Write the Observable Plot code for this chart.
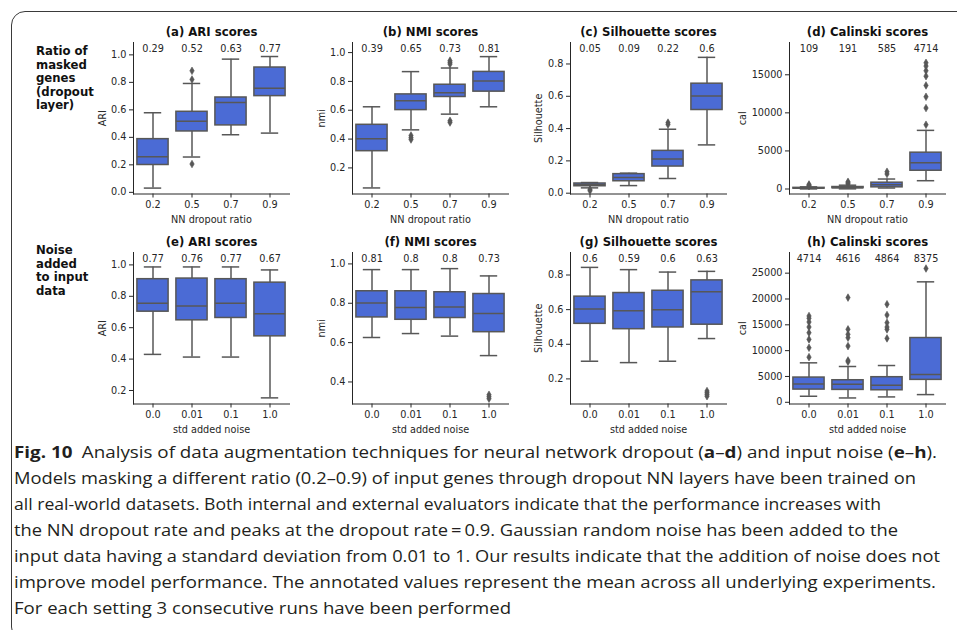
<!DOCTYPE html>
<html>
<head>
<meta charset="utf-8">
<script src="https://cdn.jsdelivr.net/npm/d3@7"></script>
<script src="https://cdn.jsdelivr.net/npm/@observablehq/plot@0.6"></script>
<style>
  html, body { margin: 0; padding: 0; background: #fff; }
  #fig { position: relative; width: 957px; height: 630px; overflow: hidden; background: #fff; }
  .frame { position: absolute; left: 11px; top: 11px; width: 1000px; height: 630px; box-sizing: border-box;
           border: 1.3px solid #3a3a3a; border-radius: 14px; }
  .rowlab { position: absolute; left: 36px; font-family: "DejaVu Sans", sans-serif; font-weight: bold;
            font-size: 11.7px; line-height: 13.6px; color: #111; }
  .panel { position: absolute; }
  .cap { position: absolute; left: 14px; white-space: nowrap; font-family: "Open Sans", sans-serif;
         font-size: 16.2px; line-height: 26px; color: #231f20; transform-origin: 0 50%; }
</style>
</head>
<body>
<div id="fig">
  <div class="frame"></div>
  <div class="rowlab" style="top:45px">Ratio of<br>masked<br>genes<br>(dropout<br>layer)</div>
  <div class="rowlab" style="top:244px">Noise<br>added<br>to input<br>data</div>
</div>
<script>
// ---------- data ----------
const dropoutCats = ["0.2", "0.5", "0.7", "0.9"];
const noiseCats = ["0.0", "0.01", "0.1", "1.0"];

// stats per category: [lower whisker, q1, median, q3, upper whisker]
const ariDropoutStats = [[0.031, 0.199, 0.259, 0.387, 0.579], [0.257, 0.443, 0.518, 0.586, 0.792], [0.419, 0.487, 0.654, 0.690, 0.969], [0.431, 0.700, 0.758, 0.908, 0.988]];
const ariDropoutOutliers = [[], [0.884, 0.821, 0.206], [], []];
const ariDropoutMeans = ["0.29", "0.52", "0.63", "0.77"];

const nmiDropoutStats = [[0.061, 0.316, 0.402, 0.499, 0.624], [0.464, 0.601, 0.666, 0.710, 0.868], [0.573, 0.692, 0.722, 0.777, 0.893], [0.624, 0.729, 0.803, 0.866, 0.972]];
const nmiDropoutOutliers = [[], [0.425, 0.41, 0.397], [0.944, 0.932, 0.92, 0.527, 0.515], []];
const nmiDropoutMeans = ["0.39", "0.65", "0.73", "0.81"];

const silDropoutStats = [[0.033, 0.043, 0.052, 0.060, 0.066], [0.047, 0.074, 0.097, 0.118, 0.124], [0.091, 0.165, 0.212, 0.262, 0.396], [0.299, 0.515, 0.602, 0.678, 0.841]];
const silDropoutOutliers = [[0.023, 0.015], [], [0.437, 0.425], []];
const silDropoutMeans = ["0.05", "0.09", "0.22", "0.6"];

const calDropoutStats = [[10, 50, 100, 150, 280], [20, 110, 170, 260, 500], [130, 220, 570, 830, 1310], [1090, 2400, 3450, 4770, 7700]];
const calDropoutOutliers = [[380, 480, 600], [650, 800, 950], [1970, 2270], [8440, 10630, 12110, 13600, 14820, 15530, 16140, 16570]];
const calDropoutMeans = ["109", "191", "585", "4714"];

const ariNoiseStats = [[0.43, 0.702, 0.755, 0.909, 0.987], [0.413, 0.647, 0.738, 0.913, 0.987], [0.413, 0.662, 0.755, 0.909, 0.987], [0.153, 0.545, 0.689, 0.887, 0.968]];
const ariNoiseOutliers = [[], [], [], []];
const ariNoiseMeans = ["0.77", "0.76", "0.77", "0.67"];

const nmiNoiseStats = [[0.626, 0.728, 0.801, 0.861, 0.971], [0.646, 0.716, 0.779, 0.861, 0.971], [0.633, 0.725, 0.781, 0.856, 0.976], [0.534, 0.653, 0.748, 0.847, 0.939]];
const nmiNoiseOutliers = [[], [], [], [0.335, 0.325, 0.315]];
const nmiNoiseMeans = ["0.81", "0.8", "0.8", "0.73"];

const silNoiseStats = [[0.302, 0.518, 0.603, 0.675, 0.844], [0.294, 0.487, 0.594, 0.696, 0.831], [0.302, 0.497, 0.599, 0.709, 0.817], [0.433, 0.513, 0.704, 0.769, 0.821]];
const silNoiseOutliers = [[], [], [], [0.13, 0.12, 0.11, 0.1]];
const silNoiseMeans = ["0.6", "0.59", "0.6", "0.63"];

const calNoiseStats = [[1170, 2460, 3560, 4790, 7640], [840, 2400, 3500, 4270, 6930], [1040, 2330, 3300, 4860, 7120], [1490, 4340, 5380, 12440, 23320]];
const calNoiseOutliers = [[8740, 10560, 12180, 13470, 14570, 15540, 16260, 16710], [7840, 8100, 10880, 12500, 13150, 14120, 20270], [12370, 14120, 14570, 15410, 16900, 18980], [25900]];
const calNoiseMeans = ["4714", "4616", "4864", "8375"];

const ticks01 = [0, 0.2, 0.4, 0.6, 0.8, 1.0];
const ticks02 = [0.2, 0.4, 0.6, 0.8, 1.0];
const ticks04 = [0.4, 0.6, 0.8, 1.0];
const ticksSil = [0, 0.2, 0.4, 0.6, 0.8];
const ticksSil2 = [0.2, 0.4, 0.6, 0.8];
const ticksCalA = [0, 5000, 10000, 15000];
const ticksCalB = [0, 5000, 10000, 15000, 20000, 25000];

const captionLines = [
  ["<b>Fig. 10</b>\u2002Analysis of data augmentation techniques for neural network dropout (<b>a</b>–<b>d</b>) and input noise (<b>e</b>–<b>h</b>).", 937],
  ["Models masking a different ratio (0.2–0.9) of input genes through dropout NN layers have been trained on", 916],
  ["all real-world datasets. Both internal and external evaluators indicate that the performance increases with", 881],
  ["the NN dropout rate and peaks at the dropout rate\u2009=\u20090.9. Gaussian random noise has been added to the", 898],
  ["input data having a standard deviation from 0.01 to 1. Our results indicate that the addition of noise does not", 940],
  ["improve model performance. The annotated values represent the mean across all underlying experiments.", 936],
  ["For each setting 3 consecutive runs have been performed", 511]
];

// ---------- drawing ----------
const BLUE = "#4b6bd5";
const GRAY = "#575757";
const fig = document.getElementById("fig");
const fmt1 = d3.format(".1f");
const fmtInt = d3.format("d");

const ML = 60, MT = 30, MB = 40, MR = 8, PW = 156, PH = 151.5;

function panel(cfg) {
  const rows = cfg.cats.map((c, i) => ({cat: c, lo: cfg.stats[i][0], q1: cfg.stats[i][1], med: cfg.stats[i][2], q3: cfg.stats[i][3], hi: cfg.stats[i][4]}));
  const outs = cfg.outliers.flatMap((arr, i) => arr.map(v => ({cat: cfg.cats[i], v})));
  const means = cfg.cats.map((c, i) => ({cat: c, m: cfg.means[i]}));
  const bw = PW / cfg.cats.length;
  const boxInset = bw * 0.1;
  const capInset = bw * 0.277;
  const svg = Plot.plot({
    width: ML + PW + MR,
    height: MT + PH + MB,
    marginTop: MT, marginBottom: MB, marginLeft: ML, marginRight: MR,
    style: {fontFamily: "DejaVu Sans, sans-serif", fontSize: "9.7px", color: "#262626", background: "transparent", overflow: "visible"},
    x: {type: "band", domain: cfg.cats, padding: 0, tickSize: 4, tickPadding: 3, line: true, label: null},
    y: {domain: cfg.domain, ticks: cfg.ticks, tickFormat: cfg.fmt, tickSize: 4, tickPadding: 3, line: true, label: null},
    marks: [
      Plot.ruleX(rows, {x: "cat", y1: "lo", y2: "q1", stroke: GRAY, strokeWidth: 1.5}),
      Plot.ruleX(rows, {x: "cat", y1: "q3", y2: "hi", stroke: GRAY, strokeWidth: 1.5}),
      Plot.barY(rows, {x: "cat", y1: "q1", y2: "q3", fill: BLUE, stroke: GRAY, strokeWidth: 1.5, insetLeft: boxInset, insetRight: boxInset}),
      Plot.tickY(rows, {x: "cat", y: "med", stroke: GRAY, strokeWidth: 1.5, insetLeft: boxInset, insetRight: boxInset}),
      Plot.tickY(rows, {x: "cat", y: "lo", stroke: GRAY, strokeWidth: 1.5, insetLeft: capInset, insetRight: capInset}),
      Plot.tickY(rows, {x: "cat", y: "hi", stroke: GRAY, strokeWidth: 1.5, insetLeft: capInset, insetRight: capInset}),
      Plot.dot(outs, {x: "cat", y: "v", symbol: "diamond", r: 2.3, fill: GRAY, stroke: GRAY, strokeWidth: 0.6}),
      Plot.text(means, {x: "cat", text: "m", frameAnchor: "top", lineAnchor: "middle", dy: 6.3, fill: "#262626"}),
      Plot.text([cfg.title], {text: d => d, frameAnchor: "top", lineAnchor: "middle", textAnchor: "middle", dy: -10, fontWeight: "bold", fontSize: 11.7, fill: "#111"}),
      Plot.text([cfg.xlabel], {text: d => d, frameAnchor: "bottom", lineAnchor: "middle", textAnchor: "middle", dy: 26, fill: "#262626"}),
      Plot.text([cfg.ylabel], {text: d => d, frameAnchor: "left", lineAnchor: "middle", textAnchor: "middle", dx: cfg.ylDx, rotate: -90, fill: "#262626"})
    ]
  });
  const wrap = document.createElement("div");
  wrap.className = "panel";
  wrap.style.left = (cfg.axisX - ML) + "px";
  wrap.style.top = (cfg.axisTop - MT) + "px";
  wrap.appendChild(svg);
  fig.appendChild(wrap);
}

const R1 = 41.7, R2 = 251.7;
const dl = "NN dropout ratio", nl = "std added noise";
panel({axisX: 133, axisTop: R1, cats: dropoutCats, stats: ariDropoutStats, outliers: ariDropoutOutliers, means: ariDropoutMeans, title: "(a) ARI scores", xlabel: dl, ylabel: "ARI", ylDx: -31, domain: [-0.012, 1.09], ticks: ticks01, fmt: fmt1});
panel({axisX: 352, axisTop: R1, cats: dropoutCats, stats: nmiDropoutStats, outliers: nmiDropoutOutliers, means: nmiDropoutMeans, title: "(b) NMI scores", xlabel: dl, ylabel: "nmi", ylDx: -31, domain: [0.019, 1.07], ticks: ticks02, fmt: fmt1});
panel({axisX: 570, axisTop: R1, cats: dropoutCats, stats: silDropoutStats, outliers: silDropoutOutliers, means: silDropoutMeans, title: "(c) Silhouette scores", xlabel: dl, ylabel: "Silhouette", ylDx: -32, domain: [-0.005, 0.933], ticks: ticksSil, fmt: fmt1});
panel({axisX: 789, axisTop: R1, cats: dropoutCats, stats: calDropoutStats, outliers: calDropoutOutliers, means: calDropoutMeans, title: "(d) Calinski scores", xlabel: dl, ylabel: "cal", ylDx: -47, domain: [-656, 19240], ticks: ticksCalA, fmt: fmtInt});
panel({axisX: 133, axisTop: R2, cats: noiseCats, stats: ariNoiseStats, outliers: ariNoiseOutliers, means: ariNoiseMeans, title: "(e) ARI scores", xlabel: nl, ylabel: "ARI", ylDx: -31, domain: [0.114, 1.079], ticks: ticks02, fmt: fmt1});
panel({axisX: 352, axisTop: R2, cats: noiseCats, stats: nmiNoiseStats, outliers: nmiNoiseOutliers, means: nmiNoiseMeans, title: "(f) NMI scores", xlabel: nl, ylabel: "nmi", ylDx: -31, domain: [0.288, 1.058], ticks: ticks04, fmt: fmt1});
panel({axisX: 570, axisTop: R2, cats: noiseCats, stats: silNoiseStats, outliers: silNoiseOutliers, means: silNoiseMeans, title: "(g) Silhouette scores", xlabel: nl, ylabel: "Silhouette", ylDx: -32, domain: [0.055, 0.93], ticks: ticksSil2, fmt: fmt1});
panel({axisX: 788.5, axisTop: R2, cats: noiseCats, stats: calNoiseStats, outliers: calNoiseOutliers, means: calNoiseMeans, title: "(h) Calinski scores", xlabel: nl, ylabel: "cal", ylDx: -47, domain: [-330, 29000], ticks: ticksCalB, fmt: fmtInt});

// caption
const capCenters = [452, 478, 504, 530, 556, 582, 608];
captionLines.forEach(([html, right], i) => {
  const d = document.createElement("div");
  d.className = "cap";
  d.innerHTML = html;
  d.style.top = (capCenters[i] - 13.4) + "px";
  fig.appendChild(d);
  const w = d.getBoundingClientRect().width;
  const target = right - 14;
  d.style.transform = `scaleX(${target / w})`;
});
</script>
</body>
</html>
